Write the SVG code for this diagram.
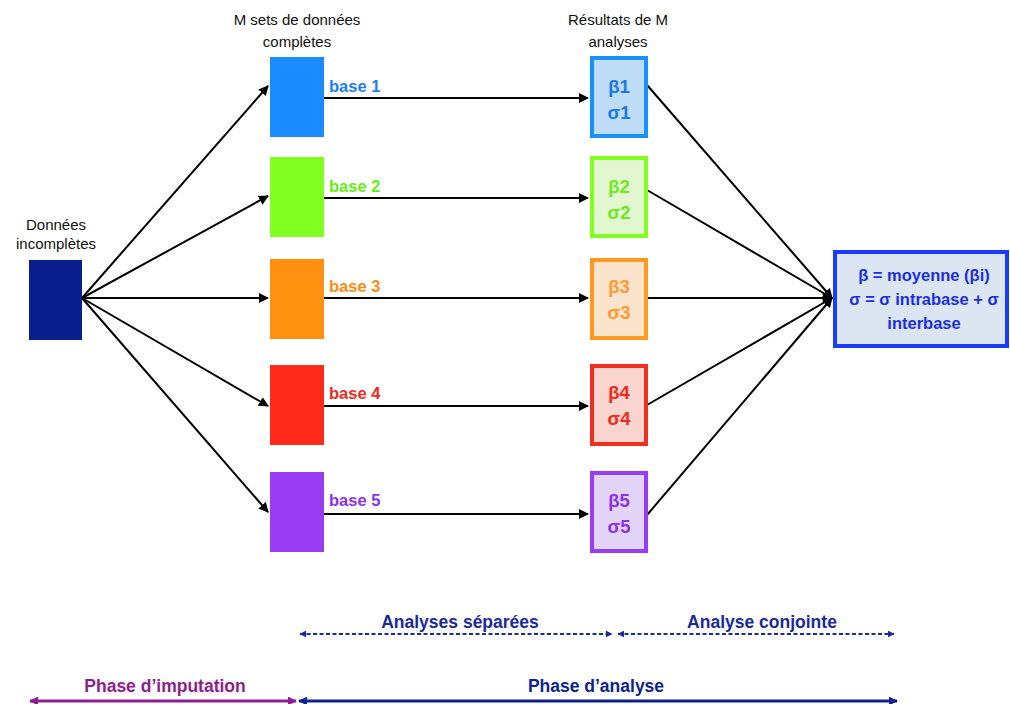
<svg xmlns="http://www.w3.org/2000/svg" width="1010" height="704" viewBox="0 0 1010 704">
<defs>
<style>
text{font-family:"Liberation Sans",Arial,sans-serif}
.hdr{font-size:15px;fill:#111;text-anchor:middle}
.lbl{font-size:16.5px;font-weight:bold}
.res{font-size:18.5px;font-weight:bold;text-anchor:middle}
.fin{font-size:16.5px;font-weight:bold;fill:#1a2ee0;text-anchor:middle}
.ph{font-size:17.5px;font-weight:bold;text-anchor:middle}
.con{stroke:#000;stroke-width:2;fill:none}
</style>
<marker id="ah" viewBox="0 0 10 10" refX="9" refY="5" markerWidth="5" markerHeight="5" orient="auto-start-reverse"><path d="M0,0 L10,5 L0,10 z" fill="#000"/></marker>
<marker id="ahb" viewBox="0 0 10 10" refX="9" refY="5" markerWidth="3.5" markerHeight="3.5" orient="auto-start-reverse"><path d="M0,0 L10,5 L0,10 z" fill="#1a2a9e"/></marker>
<marker id="ahp" viewBox="0 0 10 10" refX="9" refY="5" markerWidth="3" markerHeight="3" orient="auto-start-reverse"><path d="M0,0 L10,5 L0,10 z" fill="#8e1d8e"/></marker>
<marker id="ahd" viewBox="0 0 10 10" refX="9" refY="5" markerWidth="3" markerHeight="3" orient="auto-start-reverse"><path d="M0,0 L10,5 L0,10 z" fill="#0e1f8e"/></marker>
</defs>

<g id="headers">
<text class="hdr" x="297" y="25">M sets de données</text>
<text class="hdr" x="297" y="47">complètes</text>
<text class="hdr" x="618" y="25">Résultats de M</text>
<text class="hdr" x="618" y="47">analyses</text>
<text class="hdr" x="56" y="230">Données</text>
<text class="hdr" x="56" y="249">incomplètes</text>
</g>

<g id="connectors">
<line class="con" x1="82" y1="298" x2="268" y2="86" marker-end="url(#ah)"/>
<line class="con" x1="82" y1="298" x2="268" y2="196" marker-end="url(#ah)"/>
<line class="con" x1="82" y1="298" x2="268" y2="298" marker-end="url(#ah)"/>
<line class="con" x1="82" y1="298" x2="268" y2="406" marker-end="url(#ah)"/>
<line class="con" x1="82" y1="298" x2="268" y2="512" marker-end="url(#ah)"/>
<line class="con" x1="324" y1="98" x2="588" y2="98" marker-end="url(#ah)"/>
<line class="con" x1="324" y1="198" x2="588" y2="198" marker-end="url(#ah)"/>
<line class="con" x1="324" y1="298" x2="588" y2="298" marker-end="url(#ah)"/>
<line class="con" x1="324" y1="406" x2="588" y2="406" marker-end="url(#ah)"/>
<line class="con" x1="324" y1="514" x2="588" y2="514" marker-end="url(#ah)"/>
<line class="con" x1="647" y1="85" x2="832" y2="298" marker-end="url(#ah)"/>
<line class="con" x1="647" y1="190" x2="832" y2="298" marker-end="url(#ah)"/>
<line class="con" x1="647" y1="298" x2="832" y2="298" marker-end="url(#ah)"/>
<line class="con" x1="647" y1="405" x2="832" y2="298" marker-end="url(#ah)"/>
<line class="con" x1="647" y1="515" x2="832" y2="298" marker-end="url(#ah)"/>
</g>

<g id="incomplete"><rect x="29" y="260" width="53" height="80" fill="#0a1f8f"/></g>

<g id="base1"><rect x="270" y="57" width="54" height="80" fill="#1a8cff"/><text class="lbl" x="329" y="92" fill="#1a7ff0">base 1</text></g>
<g id="base2"><rect x="270" y="157" width="54" height="80" fill="#80ff20"/><text class="lbl" x="329" y="192" fill="#66ee11">base 2</text></g>
<g id="base3"><rect x="270" y="259" width="54" height="80" fill="#ff9010"/><text class="lbl" x="329" y="292" fill="#ff8a10">base 3</text></g>
<g id="base4"><rect x="270" y="365" width="54" height="80" fill="#ff2a1a"/><text class="lbl" x="329" y="399" fill="#ee2a1a">base 4</text></g>
<g id="base5"><rect x="270" y="472" width="54" height="80" fill="#9b3cf5"/><text class="lbl" x="329" y="506" fill="#8c30ee">base 5</text></g>

<g id="res1"><rect x="592" y="58" width="54" height="78" fill="#bfdcf7" stroke="#1a90ff" stroke-width="4"/><text class="res" x="619" y="93" fill="#1a78e8">β1</text><text class="res" x="619" y="119" fill="#1a78e8">σ1</text></g>
<g id="res2"><rect x="592" y="158" width="54" height="78" fill="#e2f7cf" stroke="#80ff20" stroke-width="4"/><text class="res" x="619" y="193" fill="#6ee81a">β2</text><text class="res" x="619" y="219" fill="#6ee81a">σ2</text></g>
<g id="res3"><rect x="592" y="260" width="54" height="78" fill="#fbe3cc" stroke="#ff9a20" stroke-width="4"/><text class="res" x="619" y="293" fill="#ff9a30">β3</text><text class="res" x="619" y="319" fill="#ff9a30">σ3</text></g>
<g id="res4"><rect x="592" y="366" width="54" height="78" fill="#fad4cf" stroke="#f0301e" stroke-width="4"/><text class="res" x="619" y="399" fill="#ee2a1a">β4</text><text class="res" x="619" y="425" fill="#ee2a1a">σ4</text></g>
<g id="res5"><rect x="592" y="473" width="54" height="78" fill="#e2d4f7" stroke="#9b3cf5" stroke-width="4"/><text class="res" x="619" y="507" fill="#8c30ee">β5</text><text class="res" x="619" y="533" fill="#8c30ee">σ5</text></g>

<g id="final"><rect x="835" y="252" width="172" height="94" fill="#dce6f2" stroke="#1a3cff" stroke-width="4"/>
<text class="fin" x="924" y="281">β = moyenne (βi)</text>
<text class="fin" x="924" y="305">σ = σ intrabase + σ</text>
<text class="fin" x="924" y="329">interbase</text></g>

<g id="phases">
<text class="ph" x="460" y="628" fill="#1a2a9e">Analyses séparées</text>
<text class="ph" x="762" y="628" fill="#1a2a9e">Analyse conjointe</text>
<line x1="300" y1="634" x2="612" y2="634" stroke="#1a2a9e" stroke-width="2" stroke-dasharray="4,2.5" marker-start="url(#ahb)" marker-end="url(#ahb)"/>
<line x1="618" y1="634" x2="894" y2="634" stroke="#1a2a9e" stroke-width="2" stroke-dasharray="4,2.5" marker-start="url(#ahb)" marker-end="url(#ahb)"/>
<text class="ph" x="165" y="692" fill="#8e1d8e">Phase d’imputation</text>
<text class="ph" x="596" y="692" fill="#0e1f8e">Phase d’analyse</text>
<line x1="30" y1="701" x2="296" y2="701" stroke="#8e1d8e" stroke-width="3" marker-start="url(#ahp)" marker-end="url(#ahp)"/>
<line x1="299" y1="701" x2="897" y2="701" stroke="#0e1f8e" stroke-width="3" marker-start="url(#ahd)" marker-end="url(#ahd)"/>
</g>
</svg>
